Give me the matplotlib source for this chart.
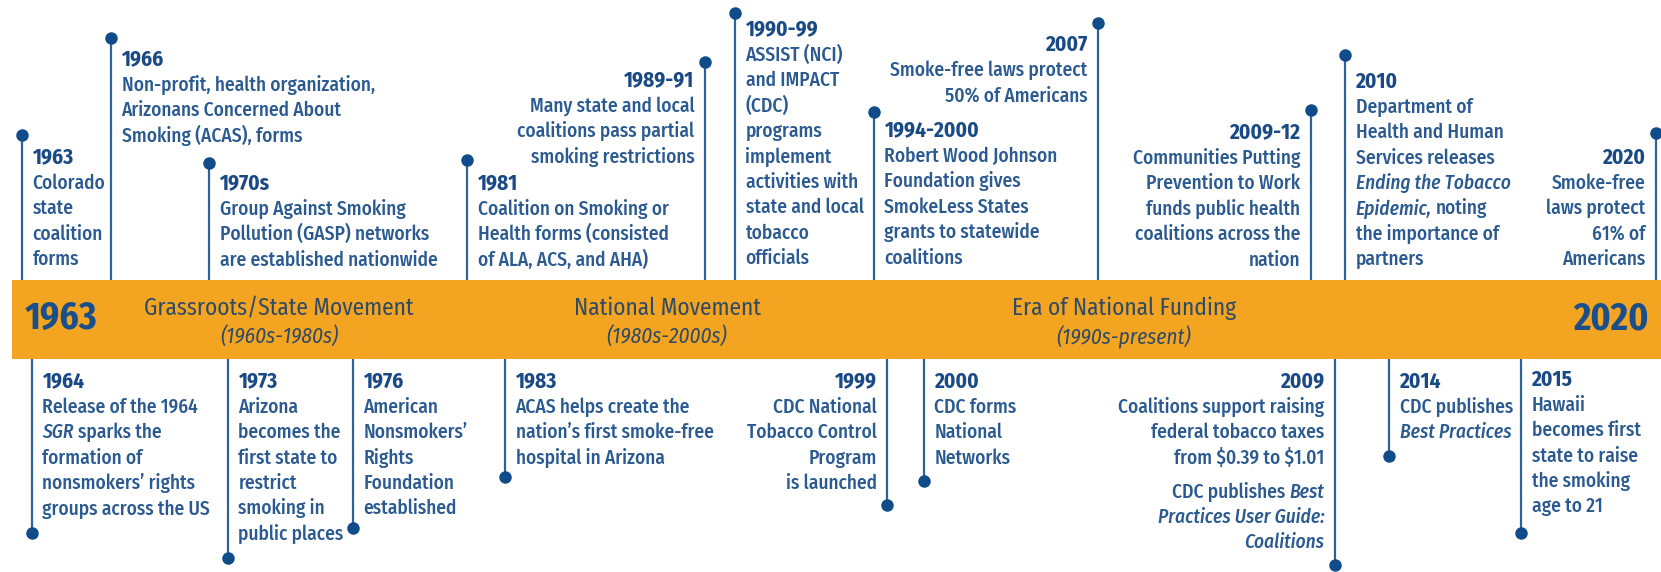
import matplotlib
matplotlib.use("Agg")
import matplotlib.pyplot as plt
import matplotlib.font_manager as fm
from matplotlib.patches import Rectangle

# ---------------- data ----------------
top_years = ['1963', '1966', '1970s', '1981', '1989-91', '1990-99', '1994-2000',
             '2007', '2009-12', '2010', '2020']
top_x = [22, 111, 209, 467, 705, 735, 874, 1098, 1311, 1345, 1656]
top_dot_y = [135, 38, 163, 160, 62, 13, 112, 23, 110, 55, 133]
top_year_y = [157, 59, 183, 183, 80, 29, 130, 44, 132, 81, 157]
top_align = ['left', 'left', 'left', 'left', 'right', 'left', 'left',
             'right', 'right', 'left', 'right']
top_lines = [
    ['Colorado', 'state', 'coalition', 'forms'],
    ['Non-profit, health organization,', 'Arizonans Concerned About', 'Smoking (ACAS), forms'],
    ['Group Against Smoking', 'Pollution (GASP) networks', 'are established nationwide'],
    ['Coalition on Smoking or', 'Health forms (consisted', 'of ALA, ACS, and AHA)'],
    ['Many state and local', 'coalitions pass partial', 'smoking restrictions'],
    ['ASSIST (NCI)', 'and IMPACT', '(CDC)', 'programs', 'implement', 'activities with',
     'state and local', 'tobacco', 'officials'],
    ['Robert Wood Johnson', 'Foundation gives', 'SmokeLess States', 'grants to statewide',
     'coalitions'],
    ['Smoke-free laws protect', '50% of Americans'],
    ['Communities Putting', 'Prevention to Work', 'funds public health',
     'coalitions across the', 'nation'],
    ['Department of', 'Health and Human', 'Services releases', '*Ending the Tobacco*',
     '*Epidemic,* noting', 'the importance of', 'partners'],
    ['Smoke-free', 'laws protect', '61% of', 'Americans'],
]

bot_years = ['1964', '1973', '1976', '1983', '1999', '2000', '2009', '2014', '2015']
bot_x = [32, 228, 353, 505, 887, 924, 1335, 1389, 1521]
bot_dot_y = [533, 558, 528, 477, 505, 481, 565, 456, 533]
bot_year_y = [381, 381, 381, 381, 381, 381, 381, 381, 379]
bot_align = ['left', 'left', 'left', 'left', 'right', 'left', 'right', 'left', 'left']
bot_lines = [
    ['Release of the 1964', '*SGR* sparks the', 'formation of',
     'nonsmokers\u2019 rights', 'groups across the US'],
    ['Arizona', 'becomes the', 'first state to', 'restrict', 'smoking in', 'public places'],
    ['American', 'Nonsmokers\u2019', 'Rights', 'Foundation', 'established'],
    ['ACAS helps create the', 'nation\u2019s first smoke-free', 'hospital in Arizona'],
    ['CDC National', 'Tobacco Control', 'Program', 'is launched'],
    ['CDC forms', 'National', 'Networks'],
    ['Coalitions support raising', 'federal tobacco taxes', 'from \\$0.39 to \\$1.01', '',
     'CDC publishes *Best*', '*Practices User Guide:*', '*Coalitions*'],
    ['CDC publishes', '*Best Practices*'],
    ['Hawaii', 'becomes first', 'state to raise', 'the smoking', 'age to 21'],
]

eras = ['Grassroots/State Movement', 'National Movement', 'Era of National Funding']
era_periods = ['(1960s-1980s)', '(1980s-2000s)', '(1990s-present)']
era_x = [279, 667, 1124]
start_year, end_year = '1963', '2020'

# ---------------- font selection ----------------
def has_styles(name):
    st = set()
    for f in fm.fontManager.ttflist:
        if f.name == name:
            w = f.weight if isinstance(f.weight, int) else 400
            st.add((f.style, w))
    ok_reg = ('normal', 400) in st
    ok_it = any(s in ('italic', 'oblique') and w == 400 for s, w in st)
    ok_b = any(s == 'normal' and w == 700 for s, w in st)
    return ok_reg and ok_it and ok_b


FAM = 'Liberation Sans'
for cand in ['Fira Sans Condensed', 'PT Sans Narrow', 'Roboto Condensed',
             'Open Sans Condensed', 'Asap Condensed', 'Barlow Semi Condensed',
             'Archivo Narrow', 'Liberation Sans Narrow']:
    if has_styles(cand):
        FAM = cand
        break

BAR = '#F3A521'
STEM = '#2D6399'
DOT = '#104C89'
YEAR_C = '#1A4A85'
BODY_C = '#2A5A91'
ERA_C = '#2F4A66'
BIG_C = '#1B4F8C'
LINE_H = 25.4
BASE_OFF = 6.5
BODY_W = 500

W, H = 1661, 572
fig = plt.figure(figsize=(W / 100, H / 100), dpi=100)
ax = fig.add_axes([0, 0, 1, 1])
ax.set_xlim(0, W)
ax.set_ylim(H, 0)
ax.axis('off')
renderer = fig.canvas.get_renderer()


def text_w(t):
    return t.get_window_extent(renderer).width


def fit_size(samples, targets, style='normal', weight='normal', base=14.0):
    ratios = []
    for s, tw in zip(samples, targets):
        t = ax.text(0, 0, s, family=FAM, fontsize=base, style=style, weight=weight)
        ratios.append(tw / text_w(t))
        t.remove()
    return base * sum(ratios) / len(ratios)


BODY_FS = 1.03 * fit_size(['are established nationwide', 'Coalitions support raising',
                           'Robert Wood Johnson'], [210, 201, 169], weight=BODY_W)
YEAR_FS = 1.02 * fit_size(['1994-2000', '2009-12', '2009'], [92, 72, 42], weight='bold')
ERA_FS = 1.02 * fit_size(['Grassroots/State Movement', 'Era of National Funding'], [265, 221])
PER_FS = fit_size(['(1960s-1980s)', '(1990s-present)'], [121, 132], style='italic')
BIG_FS = fit_size(['1963', '2020'], [73, 75], weight='bold')

BAR_TOP, BAR_BOT = 280, 359
ax.add_patch(Rectangle((12, BAR_TOP), W - 12, BAR_BOT - BAR_TOP, color=BAR, zorder=2, lw=0))

_space = {}


def space_w(style, weight, fs):
    key = (style, weight, fs)
    if key not in _space:
        a = ax.text(0, 0, 'n n', family=FAM, fontsize=fs, style=style, weight=weight)
        b = ax.text(0, 0, 'nn', family=FAM, fontsize=fs, style=style, weight=weight)
        _space[key] = text_w(a) - text_w(b)
        a.remove()
        b.remove()
    return _space[key]


def draw_line(x, y, line, ha, color=BODY_C, fs=None, weight=BODY_W):
    fs = fs or BODY_FS
    raw = line.split('*')
    segs = []
    for i, s in enumerate(raw):
        if s == '':
            continue
        style = 'italic' if i % 2 else 'normal'
        segs.append((s, style))
    items = []
    for j, (s, style) in enumerate(segs):
        lead = s[0] == ' ' and j > 0
        trail = s[-1] == ' '
        t = ax.text(0, y, s.strip(), family=FAM, fontsize=fs, style=style, weight=weight,
                    color=color, ha='left', va='baseline', zorder=4)
        items.append([t, text_w(t), lead, trail, style])
    total = 0
    for j, (t, w, lead, trail, style) in enumerate(items):
        if j > 0 and (lead or items[j - 1][3]):
            total += space_w(style, weight, fs)
        total += w
    cur = x if ha == 'left' else x - total
    for j, (t, w, lead, trail, style) in enumerate(items):
        if j > 0 and (lead or items[j - 1][3]):
            cur += space_w(style, weight, fs)
        t.set_x(cur)
        cur += w


def draw_event(x, dot_y, year, year_y, lines, ha, top):
    ax.plot([x, x], [BAR_TOP if top else BAR_BOT, dot_y], color=STEM, lw=1.6,
            zorder=1, solid_capstyle='butt')
    ax.plot([x], [dot_y], 'o', color=DOT, ms=9, zorder=3, mec='none')
    tx = x + 10.5 if ha == 'left' else x - 10.5
    y = year_y + BASE_OFF
    draw_line(tx, y, year, ha, color=YEAR_C, fs=YEAR_FS, weight='bold')
    for ln in lines:
        if ln == '':
            y += 8.5
            continue
        y += LINE_H
        draw_line(tx, y, ln, ha)


for i in range(len(top_years)):
    draw_event(top_x[i], top_dot_y[i], top_years[i], top_year_y[i], top_lines[i],
               top_align[i], True)
for i in range(len(bot_years)):
    draw_event(bot_x[i], bot_dot_y[i], bot_years[i], bot_year_y[i], bot_lines[i],
               bot_align[i], False)

# era labels in the bar
for name, per, ex in zip(eras, era_periods, era_x):
    ax.text(ex, 308, name, family=FAM, fontsize=ERA_FS, color=ERA_C,
            ha='center', va='center', zorder=4)
    ax.text(ex, 337, per, family=FAM, fontsize=PER_FS, style='italic', color=ERA_C,
            ha='center', va='center', zorder=4)

ax.text(25, 319, start_year, family=FAM, fontsize=BIG_FS, weight='bold', color=BIG_C,
        ha='left', va='center', zorder=4)
ax.text(1649, 319, end_year, family=FAM, fontsize=BIG_FS, weight='bold', color=BIG_C,
        ha='right', va='center', zorder=4)

fig.savefig('out.png', dpi=100, facecolor='white')
